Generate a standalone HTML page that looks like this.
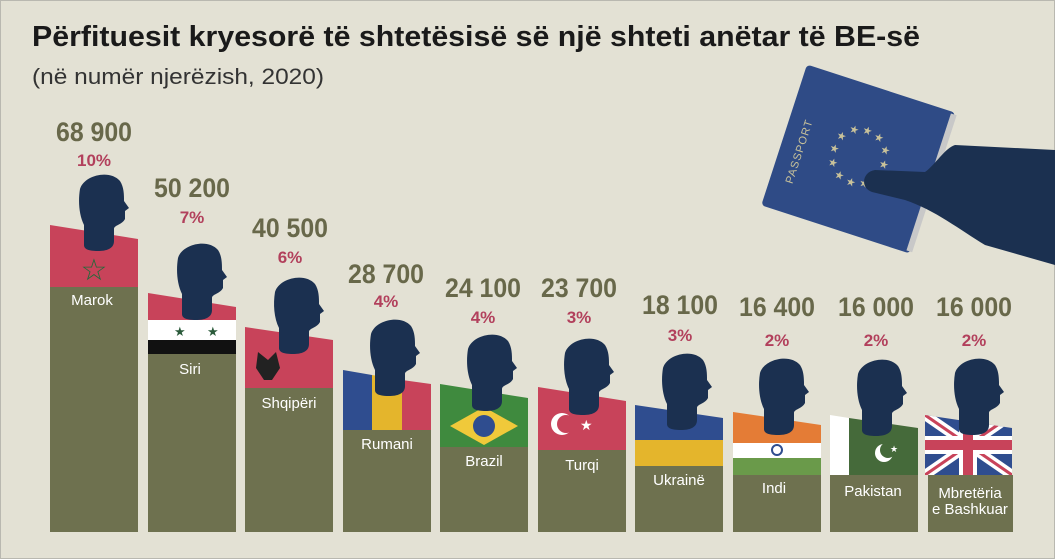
<!DOCTYPE html>
<html><head><meta charset="utf-8"><style>
html,body{margin:0;padding:0;background:#e3e1d4}
svg{display:block}
.n{font-family:"Liberation Sans Narrow","Liberation Sans",sans-serif;fill:#68684a;font-size:27px;text-anchor:middle}
.p{font-family:"Liberation Sans Narrow","Liberation Sans",sans-serif;fill:#b2405c;font-size:17px;font-weight:bold;text-anchor:middle}
.l{font-family:"Liberation Sans",sans-serif;fill:#fff;font-size:15px;text-anchor:middle}
</style></head><body>
<svg width="1055" height="559" viewBox="0 0 1055 559" xmlns="http://www.w3.org/2000/svg">
<defs>
<path id="head" d="M2,72 L2,52 C-3,42 -4,28 -2,16 C2,2 28,-4 38,8 C42,14 42,22 42,28 L47,35 L43,38 L43,46 C40,52 32,52 32,56 L32,68 C32,76 24,78 16,78 C6,78 2,76 2,72Z" fill="#1b3050"/>
</defs>
<rect x="0.5" y="0.5" width="1054" height="558" fill="#e3e1d4" stroke="#b9b8b0"/>
<text x="32" y="46" font-family="Liberation Sans,sans-serif" font-weight="bold" font-size="29" fill="#1a1a1a" textLength="888" lengthAdjust="spacingAndGlyphs">Përfituesit kryesorë të shtetësisë së një shteti anëtar të BE-së</text>
<text x="32" y="84" font-family="Liberation Sans,sans-serif" font-size="22" fill="#333" textLength="292" lengthAdjust="spacingAndGlyphs">(në numër njerëzish, 2020)</text>

<!-- passport -->
<g transform="translate(858,160) rotate(18)">
<rect x="-78" y="-75" width="156" height="148" rx="4" fill="#2f4b86"/>
<rect x="74" y="-73" width="6" height="144" fill="#c8c8c8"/>
<text transform="translate(-55,10) rotate(-90)" font-family="Liberation Sans,sans-serif" font-size="11" fill="#c9c29a" text-anchor="middle" letter-spacing="1">PASSPORT</text>
<g fill="#c9c29a" font-size="11" font-family="DejaVu Sans,sans-serif" text-anchor="middle">
<text x="0" y="-27">★</text><text x="13" y="-24">★</text><text x="23" y="-14">★</text><text x="26" y="0">★</text><text x="23" y="14">★</text><text x="13" y="24">★</text><text x="0" y="27">★</text><text x="-13" y="24">★</text><text x="-23" y="14">★</text><text x="-26" y="0">★</text><text x="-23" y="-14">★</text><text x="-13" y="-24">★</text>
</g>
</g>
<path d="M1055,150 L955,145 C945,148 935,165 925,172 L875,170 C862,172 860,188 872,192 L905,200 C935,210 960,230 985,245 L1055,265 Z" fill="#1b3050"/>

<!-- bars -->
<g fill="#6e714f">
<rect x="50" y="287" width="88" height="245"/><rect x="148" y="354" width="88" height="178"/><rect x="245" y="388" width="88" height="144"/>
<rect x="343" y="430" width="88" height="102"/><rect x="440" y="447" width="88" height="85"/><rect x="538" y="450" width="88" height="82"/>
<rect x="635" y="466" width="88" height="66"/><rect x="733" y="475" width="88" height="57"/><rect x="830" y="475" width="88" height="57"/><rect x="928" y="475" width="85" height="57"/>
</g>
<!-- flags -->
<path d="M50,225 L138,239 L138,287 L50,287Z" fill="#c8435a"/>
<text x="94" y="280" font-size="30" fill="#1f6b3a" text-anchor="middle" font-family="DejaVu Sans,sans-serif">☆</text>
<path d="M148,293 L236,307 L236,320 L148,320Z" fill="#c8435a"/>
<rect x="148" y="320" width="88" height="20" fill="#fff"/><rect x="148" y="340" width="88" height="14" fill="#111"/>
<text x="174" y="336" font-size="13" fill="#2a5a3a" font-family="DejaVu Sans,sans-serif">★</text><text x="207" y="336" font-size="13" fill="#2a5a3a" font-family="DejaVu Sans,sans-serif">★</text>
<path d="M245,327 L333,340 L333,388 L245,388Z" fill="#c8435a"/>
<path d="M258,352 L268,360 L276,352 L280,368 L272,380 L264,380 L256,368Z" fill="#222"/>
<path d="M343,370 L372,375 L372,430 L343,430Z" fill="#2f4d8f"/><path d="M372,375 L402,380 L402,430 L372,430Z" fill="#e4b52c"/><path d="M402,380 L431,384 L431,430 L402,430Z" fill="#c8435a"/>
<path d="M440,384 L528,398 L528,447 L440,447Z" fill="#3f8a3e"/>
<path d="M484,407 L518,426 L484,445 L450,426Z" fill="#f0c93a"/><circle cx="484" cy="426" r="11" fill="#2f4d8f"/>
<path d="M538,387 L626,401 L626,450 L538,450Z" fill="#c8435a"/>
<circle cx="562" cy="424" r="11" fill="#fff"/><circle cx="566" cy="424" r="9" fill="#c8435a"/><text x="580" y="430" font-size="14" fill="#fff" font-family="DejaVu Sans,sans-serif">★</text>
<path d="M635,405 L723,418 L723,440 L635,440Z" fill="#2f4d8f"/><rect x="635" y="440" width="88" height="26" fill="#e4b52c"/>
<path d="M733,412 L821,425 L821,443 L733,443Z" fill="#e47c36"/><rect x="733" y="443" width="88" height="15" fill="#fff"/><rect x="733" y="458" width="88" height="17" fill="#6a9a4a"/>
<circle cx="777" cy="450" r="5" fill="none" stroke="#2f4d8f" stroke-width="2"/>
<path d="M830,415 L849,418 L849,475 L830,475Z" fill="#fff"/><path d="M849,418 L918,428 L918,475 L849,475Z" fill="#456a3a"/>
<circle cx="884" cy="453" r="9" fill="#fff"/><circle cx="888" cy="450" r="8" fill="#456a3a"/><text x="890" y="452" font-size="9" fill="#fff" font-family="DejaVu Sans,sans-serif">★</text>
<g>
<path d="M925,415 L1012,428 L1012,475 L925,475Z" fill="#2f4d8f"/>
<clipPath id="uk"><path d="M925,415 L1012,428 L1012,475 L925,475Z"/></clipPath>
<g clip-path="url(#uk)">
<path d="M925,415 L1012,475 M1012,415 L925,475" stroke="#fff" stroke-width="10"/>
<path d="M925,415 L1012,475 M1012,415 L925,475" stroke="#c8435a" stroke-width="3"/>
<rect x="925" y="436" width="87" height="18" fill="#fff"/><rect x="959" y="410" width="18" height="70" fill="#fff"/>
<rect x="925" y="440" width="87" height="10" fill="#c8435a"/><rect x="963" y="410" width="10" height="70" fill="#c8435a"/>
</g></g>
<!-- heads -->
<use href="#head" x="82" y="173"/><use href="#head" x="180" y="242"/><use href="#head" x="277" y="276"/>
<use href="#head" x="373" y="318"/><use href="#head" x="470" y="333"/><use href="#head" x="567" y="337"/>
<use href="#head" x="665" y="352"/><use href="#head" x="762" y="357"/><use href="#head" x="860" y="358"/><use href="#head" x="957" y="357"/>
<!-- labels -->
<text class="l" x="92" y="305">Marok</text><text class="l" x="190" y="374">Siri</text><text class="l" x="289" y="408">Shqipëri</text>
<text class="l" x="387" y="449">Rumani</text><text class="l" x="484" y="466">Brazil</text><text class="l" x="582" y="470">Turqi</text>
<text class="l" x="679" y="485">Ukrainë</text><text class="l" x="774" y="493">Indi</text><text class="l" x="873" y="496">Pakistan</text>
<text class="l" x="970" y="498" font-size="14">Mbretëria</text><text class="l" x="970" y="514" font-size="14">e Bashkuar</text>
<!-- values -->
<g font-weight="bold">
<text class="n" x="94" y="141" textLength="76" lengthAdjust="spacingAndGlyphs">68 900</text>
<text class="n" x="192" y="197" textLength="76" lengthAdjust="spacingAndGlyphs">50 200</text>
<text class="n" x="290" y="237" textLength="76" lengthAdjust="spacingAndGlyphs">40 500</text>
<text class="n" x="386" y="283" textLength="76" lengthAdjust="spacingAndGlyphs">28 700</text>
<text class="n" x="483" y="297" textLength="76" lengthAdjust="spacingAndGlyphs">24 100</text>
<text class="n" x="579" y="297" textLength="76" lengthAdjust="spacingAndGlyphs">23 700</text>
<text class="n" x="680" y="314" textLength="76" lengthAdjust="spacingAndGlyphs">18 100</text>
<text class="n" x="777" y="316" textLength="76" lengthAdjust="spacingAndGlyphs">16 400</text>
<text class="n" x="876" y="316" textLength="76" lengthAdjust="spacingAndGlyphs">16 000</text>
<text class="n" x="974" y="316" textLength="76" lengthAdjust="spacingAndGlyphs">16 000</text>
</g>
<text class="p" x="94" y="166">10%</text><text class="p" x="192" y="223">7%</text><text class="p" x="290" y="263">6%</text>
<text class="p" x="386" y="307">4%</text><text class="p" x="483" y="323">4%</text><text class="p" x="579" y="323">3%</text>
<text class="p" x="680" y="341">3%</text><text class="p" x="777" y="346">2%</text><text class="p" x="876" y="346">2%</text><text class="p" x="974" y="346">2%</text>
</svg>
</body></html>
